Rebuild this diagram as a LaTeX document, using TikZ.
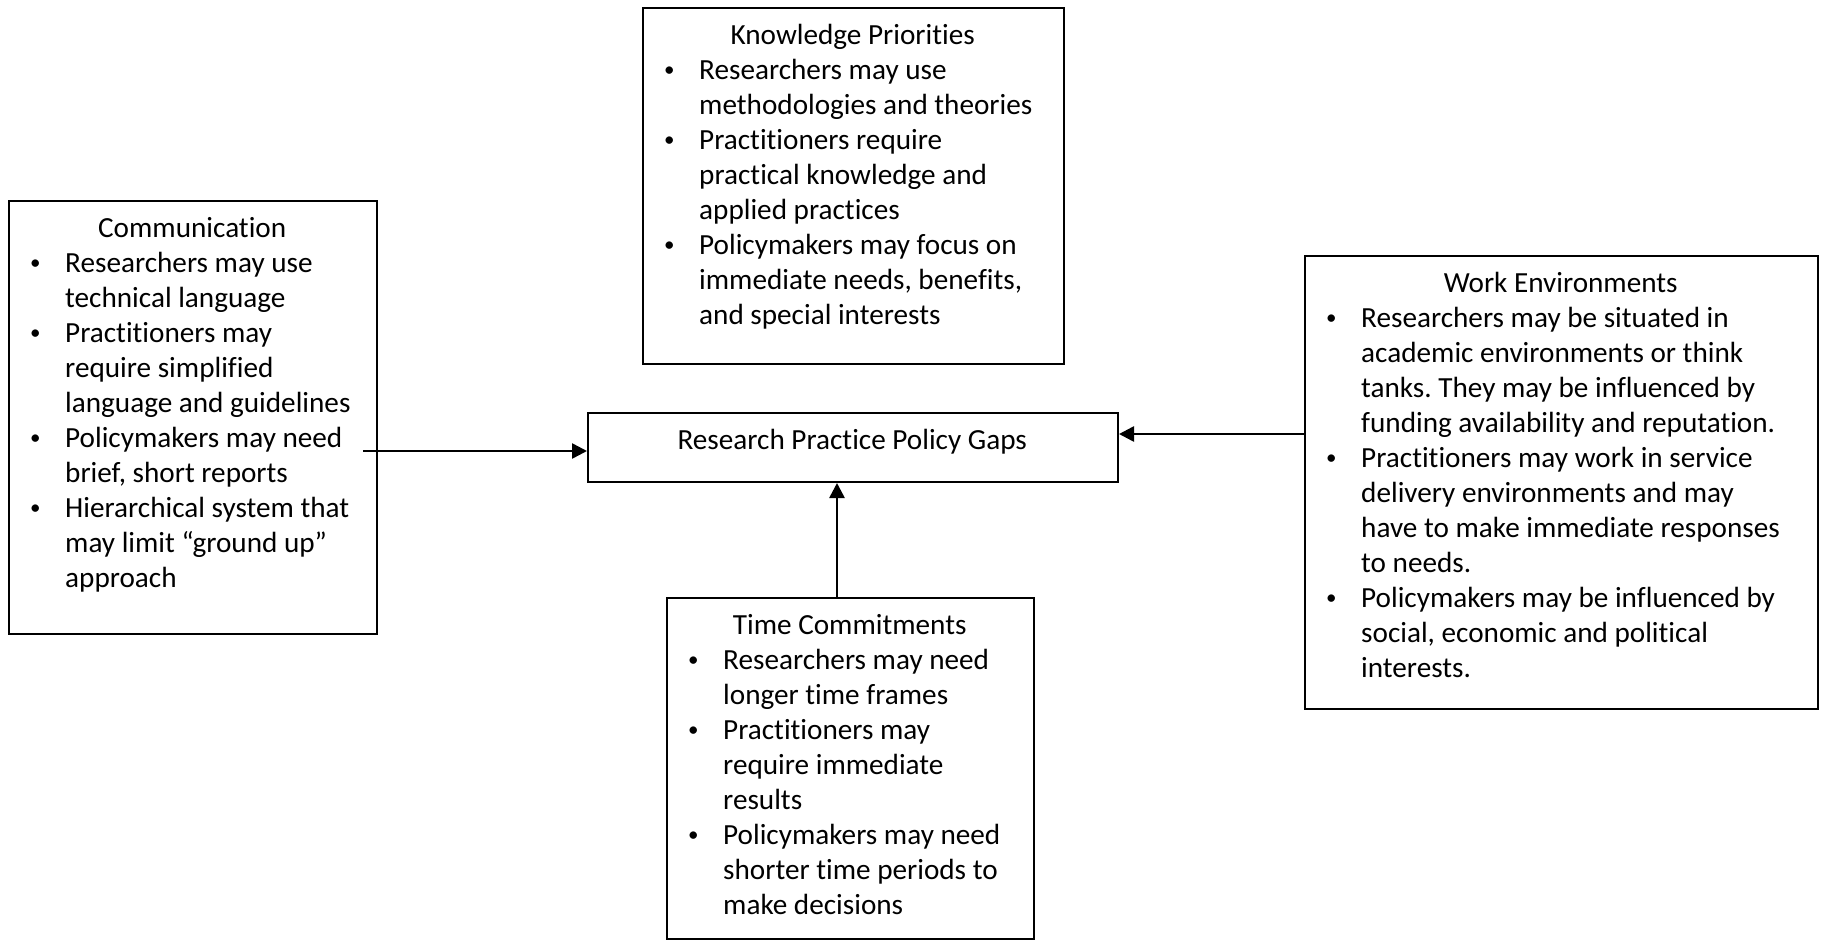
\documentclass[tikz,border=0pt]{standalone}
\usepackage{fontspec}
\setmainfont{Carlito}[RawFeature={-liga;-clig}]
\usetikzlibrary{arrows.meta,calc}
\frenchspacing
\newcommand{\titleline}[1]{\hbox to\hsize{\hfil\rule{0pt}{37pt}#1\hfil}}
\newcommand{\bdot}{\raisebox{3pt}{\fontsize{21}{21}\selectfont\textbullet}}
\newcommand{\bitem}[1]{\noindent\hangindent=57pt\hangafter=1\hbox to 57pt{\hskip 22pt\bdot\hfil}#1\par}
\newcommand{\boxtext}[2]{\vbox{\hsize=#1\parindent=0pt\parskip=0pt\rightskip=0pt plus 1fil\fontsize{29.2}{35}\selectfont #2}}
\tikzset{
  box/.style={draw, line width=2pt, rectangle, inner sep=0pt, anchor=north west},
  txt/.style={inner sep=0pt, anchor=north west},
  arr/.style={line width=2.6pt, -{Triangle[length=15pt,width=15pt]}}
}
\begin{document}
\begin{tikzpicture}[x=1pt,y=-1pt]
\useasboundingbox (0,0) rectangle (1821,940);
% boxes
\node[box, minimum width=368pt, minimum height=433pt] (comm) at (8,200) {};
\node[box, minimum width=421pt, minimum height=356pt] (kp) at (642,7) {};
\node[box, minimum width=530pt, minimum height=69pt] (gap) at (587,412) {};
\node[box, minimum width=513pt, minimum height=453pt] (we) at (1304,255) {};
\node[box, minimum width=367pt, minimum height=341pt] (tc) at (666,597) {};
% texts
\node[txt] (commtxt) at (comm.north west) {\boxtext{368pt}{%
\titleline{Communication}
\bitem{Researchers may use\\technical language}
\bitem{Practitioners may\\require simplified\\language and guidelines}
\bitem{Policymakers may need\\brief, short reports}
\bitem{Hierarchical system that\\may limit “ground up”\\approach}}};
\node[txt] (kptxt) at (kp.north west) {\boxtext{421pt}{%
\titleline{Knowledge Priorities}
\bitem{Researchers may use\\methodologies and theories}
\bitem{Practitioners require\\practical knowledge and\\applied practices}
\bitem{Policymakers may focus on\\immediate needs, benefits,\\and special interests}}};
\node[txt] (gaptxt) at (gap.north west) {\boxtext{530pt}{%
\titleline{Research Practice Policy Gaps}}};
\node[txt] (wetxt) at (we.north west) {\boxtext{513pt}{%
\titleline{Work Environments}
\bitem{Researchers may be situated in\\academic environments or think\\tanks. They may be influenced by\\funding availability and reputation.}
\bitem{Practitioners may work in service\\delivery environments and may\\have to make immediate responses\\to needs.}
\bitem{Policymakers may be influenced by\\social, economic and political\\interests.}}};
\node[txt] (tctxt) at (tc.north west) {\boxtext{367pt}{%
\titleline{Time Commitments}
\bitem{Researchers may need\\longer time frames}
\bitem{Practitioners may\\require immediate\\results}
\bitem{Policymakers may need\\shorter time periods to\\make decisions}}};
% connectors
\coordinate (lin) at ([yshift=-3.5pt]gap.west);
\coordinate (lout) at ($(comm.east |- lin)+(-15,0)$);
\draw[arr] (lout) -- (lin);
\coordinate (rin) at ([yshift=13.5pt]gap.east);
\draw[arr] (we.west |- rin) -- (rin);
\coordinate (bin) at ([xshift=-16pt]gap.south);
\draw[arr] (tc.north -| bin) -- (bin);
\end{tikzpicture}
\end{document}
